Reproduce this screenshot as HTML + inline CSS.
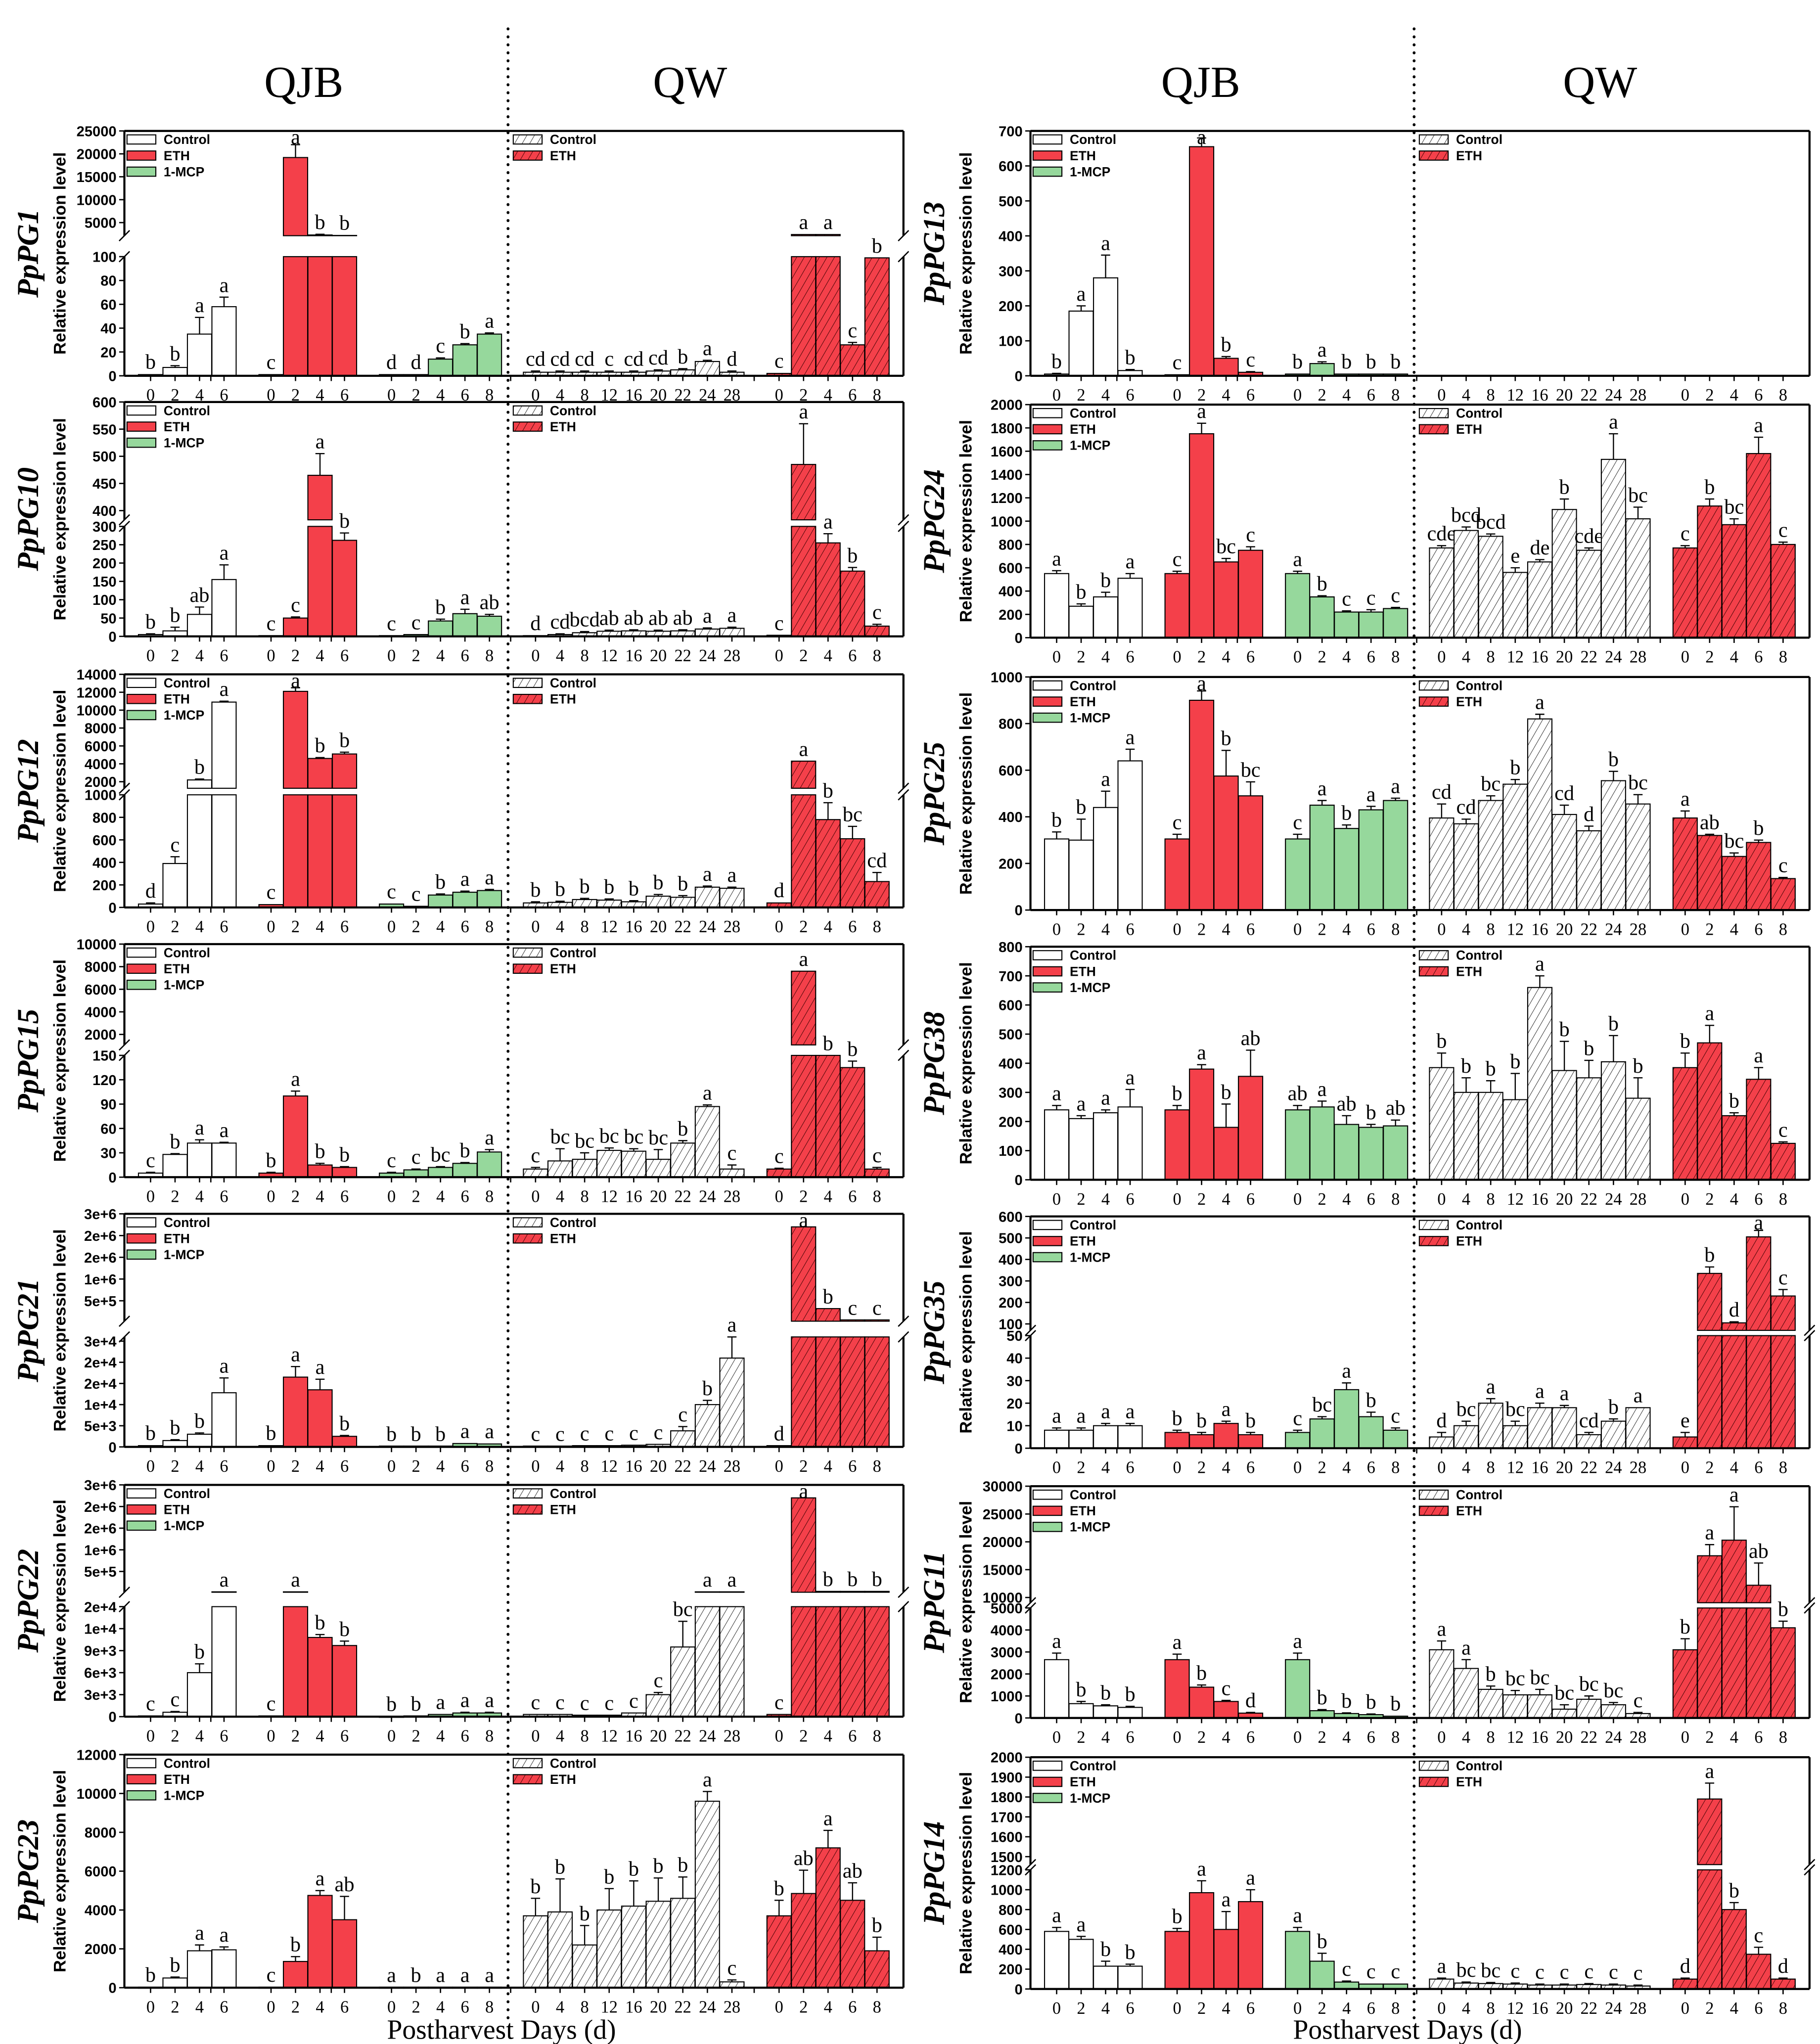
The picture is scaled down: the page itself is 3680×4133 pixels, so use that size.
<!DOCTYPE html>
<html><head><meta charset="utf-8"><style>
html,body{margin:0;padding:0;background:#fff;}
svg{display:block;}
</style></head><body>
<svg id="fig" xmlns="http://www.w3.org/2000/svg" width="3680" height="4133" viewBox="0 0 1390 1561" preserveAspectRatio="none">
<defs>
<pattern id="hw" patternUnits="userSpaceOnUse" width="5" height="5" patternTransform="rotate(30)"><rect width="5" height="5" fill="#fff"/><line x1="0" y1="0" x2="0" y2="5" stroke="#222" stroke-width="0.7"/></pattern>
<pattern id="hr" patternUnits="userSpaceOnUse" width="5" height="5" patternTransform="rotate(30)"><rect width="5" height="5" fill="#f4404a"/><line x1="0" y1="0" x2="0" y2="5" stroke="#3a0000" stroke-width="0.7"/></pattern>
</defs>
<g id="root"></g>
</svg>
<script>
// ---------- data ----------
const PG1_C=[1,7,35,58], PG1_Ce=[0.5,1.5,14,8], PG1_CL=['b','b','a','a'];
const PG1_E=[1,19200,2300,2200], PG1_Ee=[0.3,2800,150,100], PG1_EL=['c','a','b','b'];
const PG1_M=[1,1,14,26,35], PG1_Me=[0.3,0.3,1,1,1], PG1_ML=['d','d','c','b','a'];
const PG1_WC=[3,3,3,3,3,4,5,12,3], PG1_WCe=[1,1,1,1,1,1,1,1,1], PG1_WCL=['cd','cd','cd','c','cd','cd','b','a','d'];
const PG1_WE=[2,2400,2400,26,99], PG1_WEe=[0.5,50,50,2,0], PG1_WEL=['c','a','a','c','b'];

const PG10_C=[5,15,60,155], PG10_Ce=[2,10,20,40], PG10_CL=['b','b','ab','a'];
const PG10_E=[2,50,465,262], PG10_Ee=[0,3,40,20], PG10_EL=['c','c','a','b'];
const PG10_M=[2,5,42,62,55], PG10_Me=[0,0,5,12,5], PG10_ML=['c','c','b','a','ab'];
const PG10_WC=[2,5,10,14,15,14,15,20,22], PG10_WCe=[1,2,3,3,3,3,3,3,3], PG10_WCL=['d','cd','bcd','ab','ab','ab','ab','a','a'];
const PG10_WE=[3,485,255,178,28], PG10_WEe=[0,75,25,10,5], PG10_WEL=['c','a','a','b','c'];

const PG12_C=[30,390,2200,10900], PG12_Ce=[10,60,100,100], PG12_CL=['d','c','b','a'];
const PG12_E=[25,12100,4600,5100], PG12_Ee=[5,400,100,200], PG12_EL=['c','a','b','b'];
const PG12_M=[30,10,110,135,150], PG12_Me=[5,3,10,10,10], PG12_ML=['c','c','b','a','a'];
const PG12_WC=[40,45,70,65,50,100,90,180,170], PG12_WCe=[10,10,10,10,10,15,15,10,10], PG12_WCL=['b','b','b','b','b','b','b','a','a'];
const PG12_WE=[40,4300,780,610,230], PG12_WEe=[5,0,150,110,80], PG12_WEL=['d','a','b','bc','cd'];

const PG15_C=[5,28,42,42], PG15_Ce=[1,1,4,1], PG15_CL=['c','b','a','a'];
const PG15_E=[5,100,15,12], PG15_Ee=[1,6,2,1], PG15_EL=['b','a','b','b'];
const PG15_M=[5,9,12,17,31], PG15_Me=[1,1,1,1,3], PG15_ML=['c','c','bc','b','a'];
const PG15_WC=[10,20,22,33,32,22,42,87,10], PG15_WCe=[2,15,8,3,3,12,3,2,5], PG15_WCL=['c','bc','bc','bc','bc','bc','b','a','c'];
const PG15_WE=[10,7600,800,135,10], PG15_WEe=[1,0,0,8,2], PG15_WEL=['c','a','b','b','c'];

const PG21_C=[300,1500,3000,12800], PG21_Ce=[100,200,300,3500], PG21_CL=['b','b','b','a'];
const PG21_E=[300,16500,13500,2500], PG21_Ee=[100,2500,2500,200], PG21_EL=['b','a','a','b'];
const PG21_M=[200,200,200,800,700], PG21_Me=[0,0,0,100,100], PG21_ML=['b','b','b','a','a'];
const PG21_WC=[200,200,300,300,400,600,3800,10000,21000], PG21_WCe=[0,0,0,0,0,0,1000,1000,5000], PG21_WCL=['c','c','c','c','c','c','c','b','a'];
const PG21_WE=[300,2200000,320000,60000,60000], PG21_WEe=[0,0,0,0,0], PG21_WEL=['d','a','b','c','c'];

const PG22_C=[100,600,6000,30000], PG22_Ce=[50,100,1200,0], PG22_CL=['c','c','b','a'];
const PG22_E=[100,30000,10800,9700], PG22_Ee=[50,0,400,600], PG22_EL=['c','a','b','b'];
const PG22_M=[50,100,300,500,500], PG22_Me=[0,0,50,100,100], PG22_ML=['b','b','a','a','a'];
const PG22_WC=[300,300,200,200,500,3000,9500,30000,30000], PG22_WCe=[0,0,0,0,0,300,3500,0,0], PG22_WCL=['c','c','c','c','c','c','bc','a','a'];
const PG22_WE=[300,2200000,40000,40000,40000], PG22_WEe=[0,0,0,0,0], PG22_WEL=['c','a','b','b','b'];

const PG23_C=[30,500,1900,1950], PG23_Ce=[10,50,300,150], PG23_CL=['b','b','a','a'];
const PG23_E=[30,1350,4750,3500], PG23_Ee=[10,250,250,1200], PG23_EL=['c','b','a','ab'];
const PG23_M=[30,30,30,30,30], PG23_Me=[0,0,0,0,0], PG23_ML=['a','b','a','a','a'];
const PG23_WC=[3700,3900,2200,4000,4200,4450,4600,9600,300], PG23_WCe=[900,1700,1000,1100,1300,1200,1100,500,100], PG23_WCL=['b','b','b','b','b','b','b','a','c'];
const PG23_WE=[3700,4850,7200,4500,1900], PG23_WEe=[800,1200,900,900,700], PG23_WEL=['b','ab','a','ab','b'];

const PG13_C=[5,185,280,15], PG13_Ce=[2,15,65,3], PG13_CL=['b','a','a','b'];
const PG13_E=[3,655,50,10], PG13_Ee=[1,25,5,2], PG13_EL=['c','a','b','c'];
const PG13_M=[5,35,5,5,5], PG13_Me=[1,5,1,1,1], PG13_ML=['b','a','b','b','b'];

const PG24_C=[550,270,350,510], PG24_Ce=[25,20,40,40], PG24_CL=['a','b','b','a'];
const PG24_E=[550,1750,650,750], PG24_Ee=[20,90,30,30], PG24_EL=['c','a','bc','c'];
const PG24_M=[550,350,220,220,250], PG24_Me=[20,10,10,20,10], PG24_ML=['a','b','c','c','c'];
const PG24_WC=[770,920,870,560,650,1100,750,1530,1020], PG24_WCe=[20,30,20,40,20,90,20,220,100], PG24_WCL=['cde','bcd','bcd','e','de','b','cde','a','bc'];
const PG24_WE=[770,1130,970,1580,800], PG24_WEe=[20,60,50,140,20], PG24_WEL=['c','b','bc','a','c'];

const PG25_C=[305,300,440,640], PG25_Ce=[30,90,70,50], PG25_CL=['b','b','a','a'];
const PG25_E=[305,900,575,490], PG25_Ee=[20,40,110,60], PG25_EL=['c','a','b','bc'];
const PG25_M=[305,450,350,430,470], PG25_Me=[20,20,15,15,10], PG25_ML=['c','a','b','a','a'];
const PG25_WC=[395,370,470,540,820,410,340,555,455], PG25_WCe=[60,20,20,20,20,40,20,40,40], PG25_WCL=['cd','cd','bc','b','a','cd','d','b','bc'];
const PG25_WE=[395,320,230,290,135], PG25_WEe=[30,5,15,10,5], PG25_WEL=['a','ab','bc','b','c'];

const PG38_C=[240,210,230,250], PG38_Ce=[15,10,10,60], PG38_CL=['a','a','a','a'];
const PG38_E=[240,380,180,355], PG38_Ee=[15,15,80,90], PG38_EL=['b','a','b','ab'];
const PG38_M=[240,250,190,180,185], PG38_Me=[15,20,30,10,20], PG38_ML=['ab','a','ab','b','ab'];
const PG38_WC=[385,300,300,275,660,375,350,405,280], PG38_WCe=[50,50,40,90,40,100,60,90,70], PG38_WCL=['b','b','b','b','a','b','b','b','b'];
const PG38_WE=[385,470,220,345,125], PG38_WEe=[50,60,10,40,5], PG38_WEL=['b','a','b','a','c'];

const PG35_C=[8,8,10,10], PG35_Ce=[1,1,1,1], PG35_CL=['a','a','a','a'];
const PG35_E=[7,6,11,6], PG35_Ee=[1,1,1,1], PG35_EL=['b','b','a','b'];
const PG35_M=[7,13,26,14,8], PG35_Me=[1,1,3,2,1], PG35_ML=['c','bc','a','b','c'];
const PG35_WC=[5,10,20,10,18,18,6,12,18], PG35_WCe=[2,2,2,2,2,1,1,1,0], PG35_WCL=['d','bc','a','bc','a','a','cd','b','a'];
const PG35_WE=[5,335,105,505,230], PG35_WEe=[2,30,5,30,30], PG35_WEL=['e','b','d','a','c'];

const PG11_C=[2650,650,550,480], PG11_Ce=[300,100,50,50], PG11_CL=['a','b','b','b'];
const PG11_E=[2650,1400,750,220], PG11_Ee=[250,100,50,30], PG11_EL=['a','b','c','d'];
const PG11_M=[2650,330,200,150,80], PG11_Me=[300,50,30,30,20], PG11_ML=['a','b','b','b','b'];
const PG11_WC=[3100,2250,1300,1050,1050,400,850,600,200], PG11_WCe=[400,400,150,200,250,200,150,100,50], PG11_WCL=['a','a','b','bc','bc','bc','bc','bc','c'];
const PG11_WE=[3100,17500,20300,12200,4100], PG11_WEe=[500,2000,6000,4000,300], PG11_WEL=['b','a','a','ab','b'];

const PG14_C=[580,500,230,230], PG14_Ce=[40,30,50,20], PG14_CL=['a','a','b','b'];
const PG14_E=[580,970,600,880], PG14_Ee=[30,120,180,120], PG14_EL=['b','a','a','a'];
const PG14_M=[580,280,70,50,50], PG14_Me=[40,80,10,5,5], PG14_ML=['a','b','c','c','c'];
const PG14_WC=[100,60,55,50,40,40,45,40,30], PG14_WCe=[10,10,10,10,10,10,10,10,10], PG14_WCL=['a','bc','bc','c','c','c','c','c','c'];
const PG14_WE=[100,1790,800,350,100], PG14_WEe=[10,80,70,70,10], PG14_WEL=['d','a','b','c','d'];

const DAYS_QJB=['0','2','4','6'], DAYS_MCP=['0','2','4','6','8'];
const DAYS_QW=['0','4','8','12','16','20','22','24','28'], DAYS_QWE=['0','2','4','6','8'];
const E6=['5e+5','1e+6','2e+6','2e+6','3e+6'];

// ---------- layout ----------
function rng(a,b,s){const r=[];for(let v=a;v<=b+1e-9;v+=s)r.push(v);return r;}
const panels=[
 {id:'pg1',g:'PpPG1',col:0,top:100,bot:287,lo:[100,196],up:[2143,25000,180],loT:rng(0,100,20),upT:rng(5000,25000,5000),
  d:[PG1_C,PG1_Ce,PG1_CL,PG1_E,PG1_Ee,PG1_EL,PG1_M,PG1_Me,PG1_ML,PG1_WC,PG1_WCe,PG1_WCL,PG1_WE,PG1_WEe,PG1_WEL]},
 {id:'pg10',g:'PpPG10',col:0,top:307,bot:486,lo:[300,402],up:[383,600,397],loT:rng(0,300,50),upT:rng(400,600,50),
  d:[PG10_C,PG10_Ce,PG10_CL,PG10_E,PG10_Ee,PG10_EL,PG10_M,PG10_Me,PG10_ML,PG10_WC,PG10_WCe,PG10_WCL,PG10_WE,PG10_WEe,PG10_WEL]},
 {id:'pg12',g:'PpPG12',col:0,top:515,bot:693,lo:[1000,607],up:[1268,14000,602],loT:rng(0,1000,200),upT:rng(2000,14000,2000),
  d:[PG12_C,PG12_Ce,PG12_CL,PG12_E,PG12_Ee,PG12_EL,PG12_M,PG12_Me,PG12_ML,PG12_WC,PG12_WCe,PG12_WCL,PG12_WE,PG12_WEe,PG12_WEL]},
 {id:'pg15',g:'PpPG15',col:0,top:721,bot:899,lo:[150,806],up:[1072,10000,798],loT:rng(0,150,30),upT:rng(2000,10000,2000),
  d:[PG15_C,PG15_Ce,PG15_CL,PG15_E,PG15_Ee,PG15_EL,PG15_M,PG15_Me,PG15_ML,PG15_WC,PG15_WCe,PG15_WCL,PG15_WE,PG15_WEe,PG15_WEL]},
 {id:'pg21',g:'PpPG21',col:0,top:927,bot:1105,lo:[26000,1021],up:[30000,2500000,1009],loT:rng(0,25000,5000),loL:['0','5e+3','1e+4','2e+4','2e+4','3e+4'],upT:rng(500000,2500000,500000),upL:E6,
  d:[PG21_C,PG21_Ce,PG21_CL,PG21_E,PG21_Ee,PG21_EL,PG21_M,PG21_Me,PG21_ML,PG21_WC,PG21_WCe,PG21_WCL,PG21_WE,PG21_WEe,PG21_WEL]},
 {id:'pg22',g:'PpPG22',col:0,top:1134,bot:1311,lo:[15000,1227],up:[20000,2500000,1216],loT:rng(0,15000,3000),loL:['0','3e+3','6e+3','9e+3','1e+4','2e+4'],upT:rng(500000,2500000,500000),upL:E6,
  d:[PG22_C,PG22_Ce,PG22_CL,PG22_E,PG22_Ee,PG22_EL,PG22_M,PG22_Me,PG22_ML,PG22_WC,PG22_WCe,PG22_WCL,PG22_WE,PG22_WEe,PG22_WEL]},
 {id:'pg23',g:'PpPG23',col:0,top:1340,bot:1518,lo:[12000,1340],loT:rng(0,12000,2000),
  d:[PG23_C,PG23_Ce,PG23_CL,PG23_E,PG23_Ee,PG23_EL,PG23_M,PG23_Me,PG23_ML,PG23_WC,PG23_WCe,PG23_WCL,PG23_WE,PG23_WEe,PG23_WEL]},
 {id:'pg13',g:'PpPG13',col:1,top:100,bot:287,lo:[700,100],loT:rng(0,700,100),
  d:[PG13_C,PG13_Ce,PG13_CL,PG13_E,PG13_Ee,PG13_EL,PG13_M,PG13_Me,PG13_ML,[],[],[],[],[],[]]},
 {id:'pg24',g:'PpPG24',col:1,top:309,bot:487,lo:[2000,309],loT:rng(0,2000,200),
  d:[PG24_C,PG24_Ce,PG24_CL,PG24_E,PG24_Ee,PG24_EL,PG24_M,PG24_Me,PG24_ML,PG24_WC,PG24_WCe,PG24_WCL,PG24_WE,PG24_WEe,PG24_WEL]},
 {id:'pg25',g:'PpPG25',col:1,top:517,bot:695,lo:[1000,517],loT:rng(0,1000,200),
  d:[PG25_C,PG25_Ce,PG25_CL,PG25_E,PG25_Ee,PG25_EL,PG25_M,PG25_Me,PG25_ML,PG25_WC,PG25_WCe,PG25_WCL,PG25_WE,PG25_WEe,PG25_WEL]},
 {id:'pg38',g:'PpPG38',col:1,top:723,bot:901,lo:[800,723],loT:rng(0,800,100),
  d:[PG38_C,PG38_Ce,PG38_CL,PG38_E,PG38_Ee,PG38_EL,PG38_M,PG38_Me,PG38_ML,PG38_WC,PG38_WCe,PG38_WCL,PG38_WE,PG38_WEe,PG38_WEL]},
 {id:'pg35',g:'PpPG35',col:1,top:929,bot:1106,lo:[50,1020],up:[70,600,1016],loT:rng(0,50,10),upT:rng(100,600,100),
  d:[PG35_C,PG35_Ce,PG35_CL,PG35_E,PG35_Ee,PG35_EL,PG35_M,PG35_Me,PG35_ML,PG35_WC,PG35_WCe,PG35_WCL,PG35_WE,PG35_WEe,PG35_WEL]},
 {id:'pg11',g:'PpPG11',col:1,top:1135,bot:1312,lo:[5000,1228],up:[9059,30000,1224],loT:rng(0,5000,1000),upT:rng(10000,30000,5000),
  d:[PG11_C,PG11_Ce,PG11_CL,PG11_E,PG11_Ee,PG11_EL,PG11_M,PG11_Me,PG11_ML,PG11_WC,PG11_WCe,PG11_WCL,PG11_WE,PG11_WEe,PG11_WEL]},
 {id:'pg14',g:'PpPG14',col:1,top:1342,bot:1519,lo:[1200,1428],up:[1460,2000,1424],loT:rng(0,1200,200),upT:rng(1500,2000,100),
  d:[PG14_C,PG14_Ce,PG14_CL,PG14_E,PG14_Ee,PG14_EL,PG14_M,PG14_Me,PG14_ML,PG14_WC,PG14_WCe,PG14_WCL,PG14_WE,PG14_WEe,PG14_WEL]}
];

const NS='http://www.w3.org/2000/svg';
const root=document.getElementById('root');
function el(tag,attrs,parent,txt){const e=document.createElementNS(NS,tag);for(const k in attrs)e.setAttribute(k,attrs[k]);if(txt!==undefined)e.textContent=txt;(parent||root).appendChild(e);return e;}

// headers
[[232,'QJB'],[527,'QW'],[917,'QJB'],[1222,'QW']].forEach(([x,t])=>{
 const e=el('text',{x:x,y:74,'text-anchor':'middle','font-family':'Liberation Serif, serif','font-size':34},root,t);
 
 
});
[383,1075].forEach((x,i)=>{
 const e=el('text',{x:x,y:1557,'text-anchor':'middle','font-family':'Liberation Serif, serif','font-size':21},root,'Postharvest Days (d)');
 
 
});
[388,1080].forEach(x=>{
 const e=el('line',{x1:x,y1:22,x2:x,y2:1545,stroke:'#000','stroke-width':2.2,'stroke-dasharray':'0.1 6','stroke-linecap':'round'});
 
 
});

const SERIF='Liberation Serif, serif', SANS='Liberation Sans, sans-serif';
const STEP=18.7, BW=18.5;

panels.forEach(p=>{
 const ox=p.col?692:0;
 const g=el('g',{});
 
 
 const L=95+ox, R=690+ox;
 const loMax=p.lo[0];
 const yLo=v=>p.bot-v/loMax*(p.bot-p.lo[1]);
 const yUp=v=>p.up[2]-(v-p.up[0])/(p.up[1]-p.up[0])*(p.up[2]-p.top);
 const Y=v=>{ if(v<=loMax||!p.up) return yLo(Math.min(v,p.up?v:loMax)); if(v<p.up[0]) return p.lo[1]; return yUp(v);};

 const cy=(p.top+p.bot)/2;
 const gl=el('text',{x:0,y:0,transform:`translate(${29+ox},${cy}) rotate(-90)`,'text-anchor':'middle','font-family':SERIF,'font-size':23,'font-style':'italic','font-weight':'bold'},g,p.g);
 
 
 const yt=el('text',{x:0,y:0,transform:`translate(${50+ox},${cy}) rotate(-90)`,'text-anchor':'middle','font-family':SANS,'font-size':13,'font-weight':'bold'},g,'Relative expression level');
 
 

 function ticks(vals,labs,fn){vals.forEach((v,i)=>{const y=fn(v);
  el('line',{x1:L-4,y1:y,x2:L,y2:y,stroke:'#000','stroke-width':1},g);
  const t=el('text',{x:L-6,y:y+4,'text-anchor':'end','font-family':SANS,'font-size':11,'font-weight':'bold'},g,labs?labs[i]:String(v));
  
  });}
 ticks(p.loT,p.loL,yLo);
 if(p.up) ticks(p.upT,p.upL,yUp);

 const groups=[
  {x0:115+ox,step:STEP,v:p.d[0],e:p.d[1],l:p.d[2],fill:'#fff',lab:DAYS_QJB,n:'qjb-control'},
  {x0:207+ox,step:STEP,v:p.d[3],e:p.d[4],l:p.d[5],fill:'#f4404a',lab:DAYS_QJB,n:'qjb-eth'},
  {x0:299+ox,step:STEP,v:p.d[6],e:p.d[7],l:p.d[8],fill:'#96d89c',lab:DAYS_MCP,n:'qjb-1mcp'},
  {x0:409+ox,step:18.75,v:p.d[9],e:p.d[10],l:p.d[11],fill:'url(#hw)',lab:DAYS_QW,n:'qw-control'},
  {x0:595+ox,step:18.7,v:p.d[12],e:p.d[13],l:p.d[14],fill:'url(#hr)',lab:DAYS_QWE,n:'qw-eth'}
 ];
 groups.forEach(gr=>{
  gr.lab.forEach((t,i)=>{const x=gr.x0+i*gr.step;
   el('line',{x1:x,y1:p.bot,x2:x,y2:p.bot+4,stroke:'#000','stroke-width':1},g);
   const tx=el('text',{x:x,y:p.bot+19,'text-anchor':'middle','font-family':SERIF,'font-size':13},g,t);
   
   
  });
  gr.v.forEach((v,i)=>{
   const cx=gr.x0+i*gr.step, x=cx-BW/2;
   if(p.up && v>loMax){
    const r1=el('rect',{x:x,y:p.lo[1],width:BW,height:p.bot-p.lo[1],fill:gr.fill,stroke:'#000','stroke-width':0.8},g);
    
    
    if(v>p.up[0]){
     const r2=el('rect',{x:x,y:yUp(v),width:BW,height:p.up[2]-yUp(v),fill:gr.fill,stroke:'#000','stroke-width':0.8},g);
     
     
    }
   } else {
    const yv=yLo(v);
    const r=el('rect',{x:x,y:yv,width:BW,height:Math.max(p.bot-yv,0.8),fill:gr.fill,stroke:'#000','stroke-width':0.8},g);
    
    
   }
   const e=gr.e[i]||0, yt0=Y(v), yt1=Y(v+e);
   if(e>0 && yt0-yt1>0.5){
    el('line',{x1:cx,y1:yt0,x2:cx,y2:yt1,stroke:'#000','stroke-width':0.9},g);
    el('line',{x1:cx-3.5,y1:yt1,x2:cx+3.5,y2:yt1,stroke:'#000','stroke-width':0.9},g);
   }
   const lt=el('text',{x:cx,y:Math.max(yt1-4,p.top+10),'text-anchor':'middle','font-family':SERIF,'font-size':16},g,gr.l[i]);
   
   
  });
 });
 [161+ox,253+ox,390+ox,576+ox].forEach(x=>el('line',{x1:x,y1:p.bot,x2:x,y2:p.bot+4,stroke:'#000','stroke-width':1},g));

 const fr={stroke:'#000','stroke-width':1.6,fill:'none'};
 el('line',Object.assign({x1:L,y1:p.bot,x2:R,y2:p.bot},fr),g);
 el('line',Object.assign({x1:L,y1:p.top,x2:R,y2:p.top},fr),g);
 if(p.up){
  const gy1=p.up[2], gy2=p.lo[1];
  [L,R].forEach(x=>{
   el('line',Object.assign({x1:x,y1:p.top,x2:x,y2:gy1},fr),g);
   el('line',Object.assign({x1:x,y1:gy2,x2:x,y2:p.bot},fr),g);
   el('line',{x1:x-4,y1:gy1+4,x2:x+4,y2:gy1-4,stroke:'#000','stroke-width':1},g);
   el('line',{x1:x-4,y1:gy2+4,x2:x+4,y2:gy2-4,stroke:'#000','stroke-width':1},g);
  });
 } else {
  el('line',Object.assign({x1:L,y1:p.top,x2:L,y2:p.bot},fr),g);
  el('line',Object.assign({x1:R,y1:p.top,x2:R,y2:p.bot},fr),g);
 }

 function legend(x,items){items.forEach((it,i)=>{const y=p.top+3+i*12.3;
  const r=el('rect',{x:x,y:y,width:22,height:7,fill:it[1],stroke:'#000','stroke-width':0.8},g);
  
  
  const t=el('text',{x:x+28,y:y+7,'font-family':SANS,'font-size':10,'font-weight':'bold'},g,it[0]);
  
  });}
 legend(97+ox,[['Control','#fff'],['ETH','#f4404a'],['1-MCP','#96d89c']]);
 legend(392+ox,[['Control','url(#hw)'],['ETH','url(#hr)']]);
});
</script>
</body></html>
